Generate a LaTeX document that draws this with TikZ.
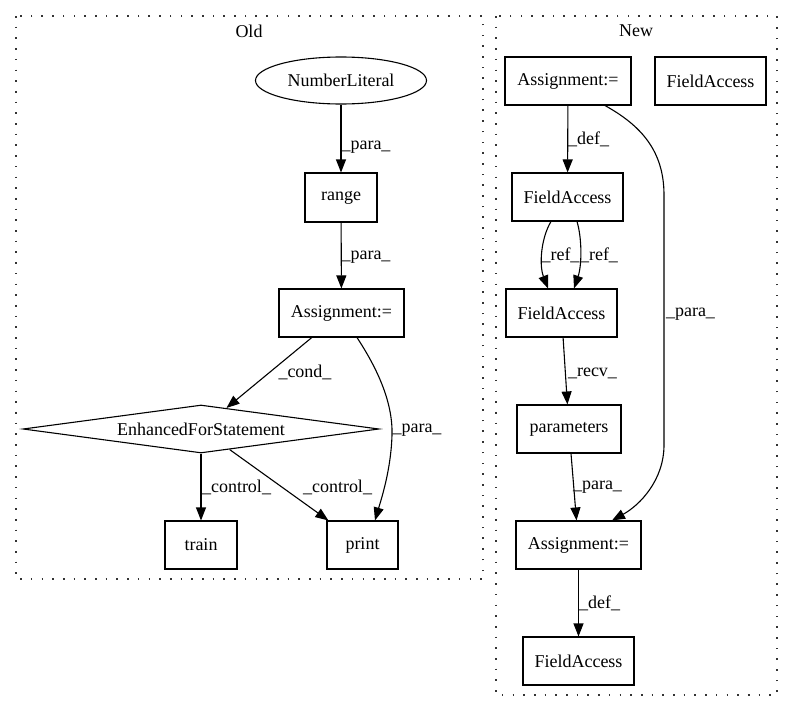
\documentclass[tikz,border=0pt]{standalone}
\usepackage{fontspec}
\setmainfont{Liberation Serif}
\usetikzlibrary{arrows.meta,shapes.geometric,calc}
\tikzset{
  every node/.style={font=\fontsize{18}{21}\selectfont},
  box/.style={draw, rectangle, line width=1.1pt, inner sep=0pt, minimum height=48pt},
  oval/.style={draw, ellipse, line width=1.1pt, inner sep=0pt},
  dia/.style={draw, diamond, shape aspect=7.4, line width=1.1pt, inner sep=0pt},
  edge/.style={line width=1.1pt, -{Triangle[length=13pt,width=10pt]}},
  lbl/.style={inner sep=0pt},
  cluster/.style={line width=1.3pt, dash pattern=on 1.6pt off 9.1pt, draw=black!80},
  ctitle/.style={inner sep=0pt}
}
\begin{document}
\begin{tikzpicture}[x=1pt,y=-1pt]
\useasboundingbox (0,0) rectangle (793,712);
% clusters
\draw[cluster] (16,16) rectangle (483,579);
\node[ctitle] (oldt) at (249,31) {Old};
\draw[cluster] (496,16) rectangle (777,695);
\node[ctitle] (newt) at (636,31) {New};
% Old nodes
\node[oval, minimum width=171pt, minimum height=47pt] (nl) at (341,80.5) {NumberLiteral};
\node[box, minimum width=72pt, minimum height=49pt] (range) at (341,197.5) {range};
\node[box, minimum width=125pt] (asg1) at (341.5,313) {Assignment:=};
\node[dia, minimum width=356pt, minimum height=48pt] (efs) at (201,429) {EnhancedForStatement};
\node[box, minimum width=72pt] (train) at (201,545) {train};
\node[box, minimum width=71pt] (print) at (362.5,545) {print};
% New nodes
\node[box, minimum width=126pt] (asg2) at (568,81) {Assignment:=};
\node[box, minimum width=111pt] (fa1) at (710.5,81) {FieldAccess};
\node[box, minimum width=111pt] (fa2) at (567.5,197) {FieldAccess};
\node[box, minimum width=111pt] (fa3) at (561.5,313) {FieldAccess};
\node[box, minimum width=104pt] (params) at (569,429) {parameters};
\node[box, minimum width=125pt] (asg3) at (578.5,545) {Assignment:=};
\node[box, minimum width=111pt] (fa4) at (578.5,661) {FieldAccess};
% Old edges
\draw[edge] (nl) -- (range) node[lbl] at (366,147) {\_para\_};
\draw[edge] (range) -- (asg1) node[lbl] at (366,257) {\_para\_};
\draw[edge] (asg1) -- (efs) node[lbl] at (305,372) {\_cond\_};
\draw[edge] ($(asg1.south)+(15.5,0)$) .. controls (375,365) and (393,400) .. (392,435)
  .. controls (391,470) and (381,500) .. ($(print.north)+(12.5,0)$)
  node[lbl] at (417,430) {\_para\_};
\draw[edge] (efs) -- (train) node[lbl] at (236.5,487) {\_control\_};
\draw[edge] (efs) -- (print) node[lbl] at (337.5,487) {\_control\_};
% New edges
\draw[edge] (asg2) -- (fa2) node[lbl] at (588.5,139) {\_def\_};
\draw[edge] ($(asg2.south)+(37,0)$) .. controls (640,125) and (664,150) .. (664,195)
  -- (664,445) .. controls (664,480) and (640,505) .. ($(asg3.north)+(33.5,0)$)
  node[lbl] at (690.5,314) {\_para\_};
\draw[edge] ($(fa2.south)+(-16.5,0)$) .. controls (541,238) and (539,265) .. ($(fa3.north)+(-13.5,0)$)
  node[lbl] at (560.5,255) {\_ref\_};
\draw[edge] ($(fa2.south)+(9.5,0)$) .. controls (582,238) and (582,265) .. ($(fa3.north)+(12.5,0)$)
  node[lbl] at (599,255) {\_ref\_};
\draw[edge] (fa3) -- (params) node[lbl] at (592.5,373) {\_recv\_};
\draw[edge] (params) -- (asg3) node[lbl] at (597.5,487) {\_para\_};
\draw[edge] (asg3) -- (fa4) node[lbl] at (599.5,603) {\_def\_};
\end{tikzpicture}
\end{document}
